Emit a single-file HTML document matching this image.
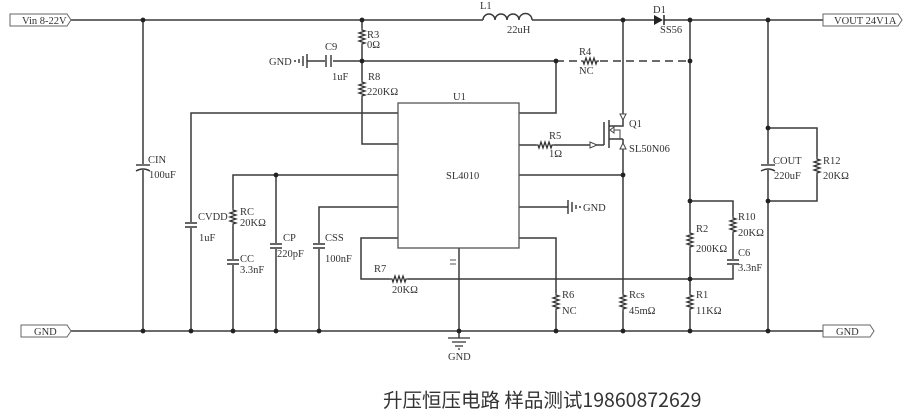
<!DOCTYPE html>
<html><head><meta charset="utf-8"><style>
html,body{margin:0;padding:0;background:#fff;}
svg{display:block}
text{font-family:"Liberation Serif",serif;font-size:10.5px;fill:#333}
.cn{font-family:"Noto Sans CJK SC","Liberation Sans",sans-serif;font-size:19.5px;fill:#333}
</style></head><body>
<svg width="908" height="413" viewBox="0 0 908 413" xmlns="http://www.w3.org/2000/svg">
<defs>
<g id="rv"><rect x="-4" y="-9" width="8" height="18" fill="#fff"/><path d="M0,-9 L0,-7 L3,-6 L-3,-4 L3,-2 L-3,0 L3,2 L-3,4 L3,6 L0,7 L0,9" fill="none" stroke="#333" stroke-width="1.3"/></g>
<g id="cv"><rect x="-6" y="-3" width="12" height="6" fill="#fff"/><path d="M-6,-2 H6 M-6,2 H6" stroke="#333" stroke-width="1.4"/></g>
<g id="cp"><rect x="-7" y="-3" width="14" height="6" fill="#fff"/><path d="M-7,-2 H7" stroke="#333" stroke-width="1.4"/><path d="M-7,4 Q0,0 7,4" fill="none" stroke="#333" stroke-width="1.4"/></g>
<circle id="d" r="2.4" fill="#222"/>
</defs>
<g stroke="#3a3a3a" stroke-width="1.5" fill="none">
<path d="M70,20 H483 M532,20 H654 M664,20 H823"/>
<path d="M483,20 a6,6 0 0 1 12,0 a6,6 0 0 1 12,0 a6,6 0 0 1 12,0 a6,6 0 0 1 13,0"/>
<path d="M70,331 H823"/>
<path d="M143,20 V331"/>
<path d="M362,20 V144 H398"/>
<path d="M307,61 H327 M331,61 H556 M556,61 V113 H519"/>
<path d="M556,61 H580 M600,61 H690" stroke-dasharray="8,5"/>
<path d="M398,113 H191 V331"/>
<path d="M398,175 H233 V331"/>
<path d="M276,175 V331"/>
<path d="M398,207 H319 V331"/>
<path d="M398,238 H361 V279 H733 V201 H690"/>
<path d="M459,248 V338"/>
<path d="M519,145 H604"/>
<path d="M519,175 H623"/>
<path d="M519,207 H568"/>
<path d="M519,238 H556 V331"/>
<path d="M623,20 V126 H609 M623,139 H609 M623,139 V331"/>
<path d="M604,122 V145 M609,120 V148"/>
<path d="M690,20 V331"/>
<path d="M768,20 V331 M768,128 H817 V201 H768"/>
</g>
<rect x="398" y="103" width="121" height="145" fill="#fff" stroke="#555" stroke-width="1.3"/>
<text x="453" y="100">U1</text>
<text x="446" y="179">SL4010</text>
<path d="M450,260 H456 M450,264 H456" stroke="#555" stroke-width="1"/>
<use href="#rv" x="362" y="37"/>
<use href="#rv" x="362" y="89"/>
<use href="#rv" x="233" y="217"/>
<use href="#cv" x="233" y="262"/>
<use href="#cv" x="191" y="225"/>
<use href="#cv" x="276" y="246"/>
<use href="#cv" x="319" y="246"/>
<use href="#cp" x="143" y="167"/>
<use href="#cp" x="768" y="167"/>
<use href="#rv" x="817" y="166"/>
<use href="#rv" x="690" y="240"/>
<use href="#rv" x="733" y="225"/>
<use href="#cv" x="733" y="262"/>
<use href="#rv" x="690" y="302"/>
<use href="#rv" x="623" y="302"/>
<use href="#rv" x="556" y="302"/>
<use href="#rv" x="399" y="279" transform="rotate(90 399 279)"/>
<use href="#rv" x="545" y="145" transform="rotate(90 545 145)"/>
<use href="#rv" x="590" y="61" transform="rotate(90 590 61)"/>
<rect x="325" y="55" width="8" height="12" fill="#fff"/>
<path d="M326,55 V67 M331,55 V67" stroke="#333" stroke-width="1.4"/>
<path d="M307,54 V68 M303,56 V66 M299,59 V63" stroke="#333" stroke-width="1.4"/>
<circle cx="295" cy="61" r="1" fill="#333"/>
<text x="269" y="65">GND</text>
<path d="M568,200 V214 M572,202 V212 M576,205 V209" stroke="#333" stroke-width="1.4"/>
<circle cx="580" cy="207" r="1" fill="#333"/>
<text x="583" y="211">GND</text>
<path d="M448,338 H470 M452,342 H466 M455,346 H463 M458,349 H460" stroke="#333" stroke-width="1.3"/>
<text x="448" y="360">GND</text>
<path d="M654,15 L663,20 L654,25 Z" fill="#222"/>
<path d="M664,15 V25" stroke="#222" stroke-width="1.5"/>
<path d="M620,114 L626,114 L623,120 Z M620,149 L626,149 L623,143 Z" fill="#fff" stroke="#444"/>
<path d="M590,142 L597,145 L590,148 Z" fill="#fff" stroke="#444"/>
<path d="M614,133 L610,130 L614,127 Z" fill="#fff" stroke="#444"/>
<path d="M614,130 H620 V139" fill="none" stroke="#444"/>
<use href="#d" x="143" y="20"/><use href="#d" x="362" y="20"/><use href="#d" x="623" y="20"/><use href="#d" x="690" y="20"/><use href="#d" x="768" y="20"/>
<use href="#d" x="362" y="61"/><use href="#d" x="556" y="61"/><use href="#d" x="690" y="61"/>
<use href="#d" x="276" y="175"/><use href="#d" x="623" y="175"/>
<use href="#d" x="768" y="128"/><use href="#d" x="768" y="201"/><use href="#d" x="690" y="201"/><use href="#d" x="690" y="279"/>
<use href="#d" x="143" y="331"/><use href="#d" x="191" y="331"/><use href="#d" x="233" y="331"/><use href="#d" x="276" y="331"/><use href="#d" x="319" y="331"/><use href="#d" x="459" y="331"/><use href="#d" x="556" y="331"/><use href="#d" x="623" y="331"/><use href="#d" x="690" y="331"/><use href="#d" x="768" y="331"/>
<path d="M10,14 H67 L71,20 L67,26 H10 Z" fill="#fff" stroke="#666"/>
<text x="22" y="24">Vin 8-22V</text>
<path d="M823,14 H898 L902,20 L898,26 H823 Z" fill="#fff" stroke="#666"/>
<text x="834" y="24">VOUT 24V1A</text>
<path d="M21,325 H67 L71,331 L67,337 H21 Z" fill="#fff" stroke="#666"/>
<text x="34" y="335">GND</text>
<path d="M823,325 H870 L874,331 L870,337 H823 Z" fill="#fff" stroke="#666"/>
<text x="836" y="335">GND</text>
<text x="480" y="9">L1</text><text x="507" y="33">22uH</text>
<text x="653" y="13">D1</text><text x="660" y="33">SS56</text>
<text x="367" y="38">R3</text><text x="367" y="48">0Ω</text>
<text x="325" y="50">C9</text><text x="332" y="80">1uF</text>
<text x="368" y="80">R8</text><text x="367" y="95">220KΩ</text>
<text x="579" y="55">R4</text><text x="579" y="74">NC</text>
<text x="549" y="139">R5</text><text x="549" y="157">1Ω</text>
<text x="629" y="127">Q1</text><text x="629" y="152">SL50N06</text>
<text x="148" y="163">CIN</text><text x="149" y="178">100uF</text>
<text x="198" y="220">CVDD</text><text x="199" y="241">1uF</text>
<text x="240" y="215">RC</text><text x="240" y="226">20KΩ</text>
<text x="240" y="262">CC</text><text x="240" y="273">3.3nF</text>
<text x="283" y="241">CP</text><text x="277" y="257">220pF</text>
<text x="325" y="241">CSS</text><text x="325" y="262">100nF</text>
<text x="374" y="272">R7</text><text x="392" y="293">20KΩ</text>
<text x="562" y="298">R6</text><text x="562" y="314">NC</text>
<text x="629" y="298">Rcs</text><text x="629" y="314">45mΩ</text>
<text x="696" y="232">R2</text><text x="696" y="252">200KΩ</text>
<text x="696" y="298">R1</text><text x="696" y="314">11KΩ</text>
<text x="738" y="220">R10</text><text x="738" y="236">20KΩ</text>
<text x="738" y="256">C6</text><text x="738" y="271">3.3nF</text>
<text x="773" y="164">COUT</text><text x="774" y="179">220uF</text>
<text x="823" y="164">R12</text><text x="823" y="179">20KΩ</text>
<text class="cn" x="383" y="407">升压恒压电路 样品测试19860872629</text>
</svg>
</body></html>
